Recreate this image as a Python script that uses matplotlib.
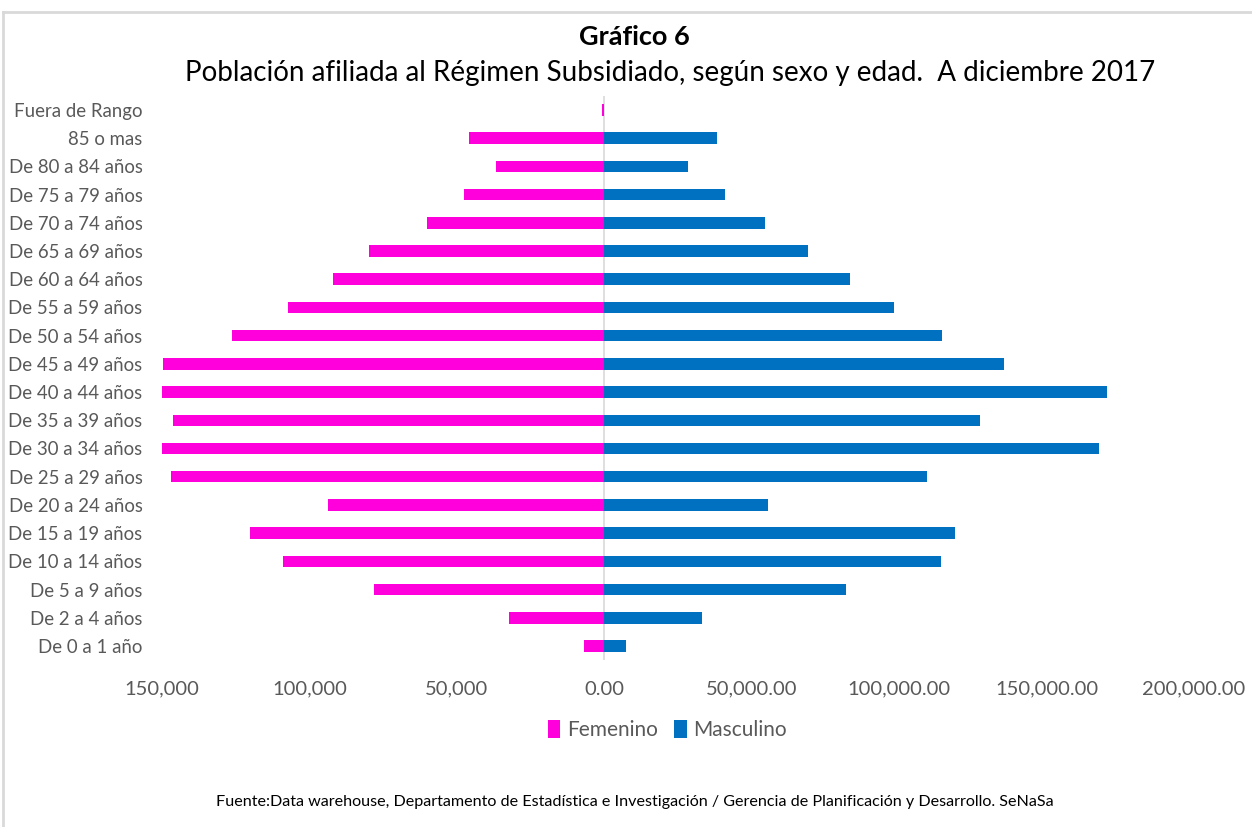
#!/usr/bin/env python3
"""Pirámide de población afiliada al Régimen Subsidiado, dic 2017"""

import matplotlib
matplotlib.use("Agg")
import matplotlib.pyplot as plt
from matplotlib.ticker import FuncFormatter
from matplotlib.lines import Line2D

# age groups, bottom to top
grupos = ['De 0 a 1 año', 'De 2 a 4 años', 'De 5 a 9 años', 'De 10 a 14 años',
          'De 15 a 19 años', 'De 20 a 24 años', 'De 25 a 29 años', 'De 30 a 34 años',
          'De 35 a 39 años', 'De 40 a 44 años', 'De 45 a 49 años', 'De 50 a 54 años',
          'De 55 a 59 años', 'De 60 a 64 años', 'De 65 a 69 años', 'De 70 a 74 años',
          'De 75 a 79 años', 'De 80 a 84 años', '85 o mas', 'Fuera de Rango']
femenino = [6800, 32200, 78100, 109100, 120200, 93700, 147000, 150700,
            146200, 150700, 149500, 126400, 107400, 92100, 79700, 60300,
            47500, 36700, 45900, 700]
masculino = [7200, 33300, 82000, 114200, 119100, 55600, 109600, 167900,
             127400, 170400, 135700, 114600, 98100, 83200, 69200, 54400,
             41100, 28400, 38200, 0]
ticks_x = [-150000, -100000, -50000, 0, 50000, 100000, 150000, 200000]

ROSA = '#FF00DC'
AZUL = '#0070C0'
GRIS = '#595959'


def fmt(v, pos):
    if v < 0:
        return '{:,.0f}'.format(-v)
    return '{:,.2f}'.format(v)


def main():
    plt.rcParams['font.family'] = ['Lato', 'DejaVu Sans']
    fig = plt.figure(figsize=(12.52, 8.27), dpi=100)
    ax = fig.add_axes([0.1294, 0.2019, 0.8243, 0.6821])

    y = range(len(grupos))
    ax.barh(y, [-v for v in femenino], height=0.41, color=ROSA, label='Femenino')
    ax.barh(y, masculino, height=0.41, color=AZUL, label='Masculino')
    ax.axvline(0, color='#D9D9D9', lw=1.2, zorder=0)

    ax.set_xlim(-150000, 200000)
    ax.set_ylim(-0.5, len(grupos) - 0.5)
    ax.set_xticks(ticks_x)
    ax.xaxis.set_major_formatter(FuncFormatter(fmt))
    ax.set_yticks(list(y))
    ax.set_yticklabels(grupos)
    ax.tick_params(axis='x', length=0, pad=15, labelsize=14.5, labelcolor=GRIS)
    ax.tick_params(axis='y', length=0, pad=14, labelsize=13.4, labelcolor=GRIS)
    for s in ax.spines.values():
        s.set_visible(False)

    fig.text(0.507, 0.955, 'Gráfico 6', ha='center', va='center',
             fontsize=19.5, fontweight='bold', color='black')
    fig.text(0.535, 0.912, 'Población afiliada al Régimen Subsidiado, según sexo y edad. '
             ' A diciembre 2017', ha='center', va='center', fontsize=20, color='black')

    fig.legend(loc='center', bbox_to_anchor=(0.533, 0.117), ncol=2, frameon=False,
               fontsize=15, handlelength=0.6, handleheight=0.9, handletextpad=0.3,
               columnspacing=0.8, labelcolor=GRIS)

    fig.text(0.507, 0.03, 'Fuente:Data warehouse, Departamento de Estadística e Investigación / '
             'Gerencia de Planificación y Desarrollo. SeNaSa', ha='center', va='center',
             fontsize=11.6, color='black')

    # chart frame
    fig.add_artist(Line2D([0.0024, 1.0], [0.9855, 0.9855], color='#D9D9D9', lw=2))
    fig.add_artist(Line2D([0.0024, 0.0024], [0.0, 0.9855], color='#D9D9D9', lw=2))

    plt.savefig("out.png")


if __name__ == "__main__":
    main()
